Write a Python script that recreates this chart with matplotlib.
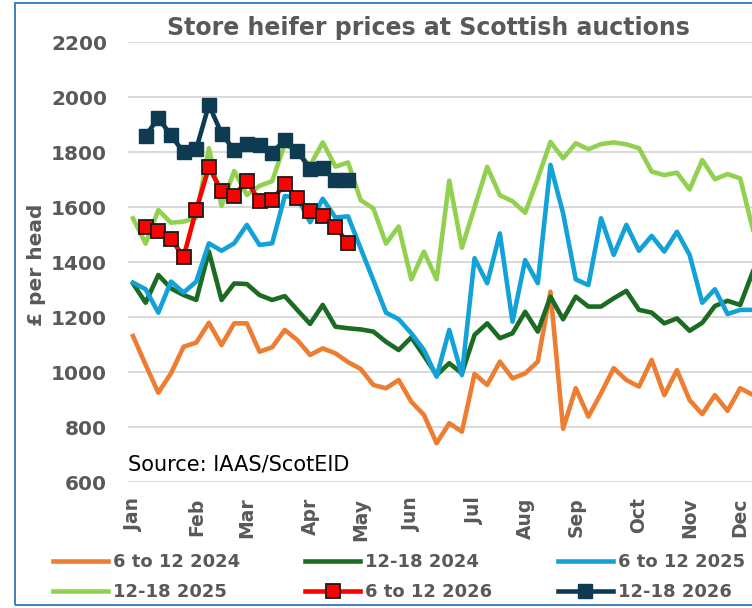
import numpy as np
import matplotlib
matplotlib.use("Agg")
import matplotlib.pyplot as plt
from matplotlib.patches import Rectangle

# ---------------- data ----------------
weeks = list(range(50))
weeks_2026 = list(range(1, 18))

month_labels = ["Jan", "Feb", "Mar", "Apr", "May", "Jun", "Jul", "Aug", "Sep", "Oct", "Nov", "Dec"]
month_weeks = [0, 5, 9, 14, 18, 22, 27, 31, 35, 40, 44, 48]

y_ticks = [600, 800, 1000, 1200, 1400, 1600, 1800, 2000, 2200]

s_6to12_2024 = [1132, 1027, 926, 996, 1093, 1108, 1180, 1099, 1178, 1178,
                1075, 1091, 1154, 1117, 1063, 1087, 1069, 1037, 1012, 954,
                942, 972, 893, 845, 742, 815, 784, 994, 954, 1039,
                978, 996, 1039, 1293, 795, 942, 839, 924, 1015, 972,
                948, 1045, 917, 1008, 899, 848, 917, 860, 942, 918]
s_12to18_2024 = [1323, 1253, 1354, 1305, 1281, 1263, 1439, 1263, 1323, 1321,
                 1281, 1263, 1277, 1226, 1176, 1245, 1166, 1160, 1156, 1148,
                 1111, 1081, 1127, 1060, 990, 1033, 996, 1136, 1178, 1124,
                 1142, 1220, 1148, 1275, 1193, 1275, 1239, 1239, 1269, 1296,
                 1227, 1217, 1178, 1196, 1151, 1180, 1241, 1260, 1245, 1366]
s_6to12_2025 = [1326, 1302, 1217, 1330, 1290, 1330, 1469, 1442, 1469, 1536,
                1463, 1469, 1641, 1635, 1546, 1631, 1563, 1567, 1450, 1335,
                1217, 1193, 1142, 1081, 984, 1154, 990, 1415, 1324, 1505,
                1184, 1408, 1324, 1754, 1578, 1338, 1317, 1560, 1427, 1536,
                1442, 1496, 1439, 1511, 1427, 1253, 1302, 1212, 1227, 1227]
s_12to18_2025 = [1560, 1468, 1590, 1544, 1548, 1562, 1815, 1605, 1732, 1645,
                 1678, 1695, 1830, 1800, 1752, 1836, 1748, 1763, 1626, 1596,
                 1468, 1530, 1338, 1439, 1338, 1697, 1453, 1600, 1747, 1644,
                 1622, 1580, 1705, 1838, 1778, 1833, 1811, 1830, 1836, 1829,
                 1815, 1730, 1717, 1726, 1665, 1772, 1702, 1721, 1705, 1520]
s_6to12_2026 = [1530, 1513, 1485, 1420, 1592, 1745, 1660, 1642, 1697, 1622,
                1626, 1685, 1633, 1586, 1570, 1530, 1469]
s_12to18_2026 = [1860, 1925, 1862, 1800, 1812, 1973, 1868, 1808, 1831, 1825,
                 1798, 1845, 1803, 1740, 1742, 1700, 1698]

labels = ["6 to 12 2024", "12-18 2024", "6 to 12 2025",
          "12-18 2025", "6 to 12 2026", "12-18 2026"]

# ---------------- style ----------------
GREY = "#595959"
FONT = ["DejaVu Sans"]
plt.rcParams["font.family"] = FONT

W, H = 752, 608
fig = plt.figure(figsize=(W / 100, H / 100), dpi=100)

# chart border (cut on right side like the reference)
fig.patches.append(Rectangle((15 / W, 1 - 605 / H), 1.2, (605 - 3) / H,
                             transform=fig.transFigure, fill=False,
                             edgecolor="#2E75B6", linewidth=1.3, zorder=0))

ax = fig.add_axes([128 / W, 1 - 482.3 / H, 1 - 128 / W, (482.3 - 42.3) / H])
step = 12.65
ax.set_xlim(-5 / step, (752 - 133) / step)
ax.set_ylim(600, 2200)

lw = 3.3
l1, = ax.plot(weeks, s_6to12_2024, color="#ED7D31", lw=lw, zorder=3)
l2, = ax.plot(weeks, s_12to18_2024, color="#1B6B23", lw=lw, zorder=4)
l3, = ax.plot(weeks, s_6to12_2025, color="#12A2D8", lw=lw, zorder=5)
l4, = ax.plot(weeks, s_12to18_2025, color="#92D050", lw=lw, zorder=6)
l5, = ax.plot(weeks_2026, s_6to12_2026, color="#FF0000", lw=lw, marker="s",
              markersize=9.5, markerfacecolor="#FF0000", markeredgecolor="#1a1a1a",
              markeredgewidth=1.3, zorder=7)
l6, = ax.plot(weeks_2026, s_12to18_2026, color="#0E3A52", lw=lw, marker="s",
              markersize=10, markerfacecolor="#0E3A52", markeredgecolor="#0E3A52",
              zorder=8)

ax.set_yticks(y_ticks)
ax.set_yticklabels([str(v) for v in y_ticks])
ax.set_xticks(month_weeks)
ax.set_xticklabels(month_labels, rotation=90)
ax.grid(axis="y", color="#D9D9D9", lw=1.4, zorder=0)
ax.set_axisbelow(True)
for s in ax.spines.values():
    s.set_visible(False)
ax.tick_params(axis="both", length=0, colors=GREY)
ax.tick_params(axis="y", pad=15, labelsize=14.5)
ax.tick_params(axis="x", pad=11, labelsize=13.5)
for t in ax.get_xticklabels() + ax.get_yticklabels():
    t.set_fontweight("bold")

fig.text(36 / W, 1 - 265 / H, "£ per head", rotation=90, ha="center", va="center",
         fontsize=14.5, fontweight="bold", color=GREY)

fig.text(428 / W, 1 - 35 / H, "Store heifer prices at Scottish auctions",
         ha="center", va="baseline", fontsize=17, fontweight="bold", color=GREY)

ax.text(0.0, (482.3 - 471) / 440, "Source: IAAS/ScotEID", transform=ax.transAxes,
        ha="left", va="baseline", fontsize=15, color="black", zorder=10)

handles = [l1, l4, l2, l5, l3, l6]
leg_labels = [labels[0], labels[3], labels[1], labels[4], labels[2], labels[5]]
leg = fig.legend(handles, leg_labels, ncol=3, loc="upper left",
                 bbox_to_anchor=(53 / W, 1 - 553 / H), frameon=False,
                 borderaxespad=0, borderpad=0, handlelength=3.05,
                 handletextpad=0.28, columnspacing=3.6, labelspacing=0.68,
                 prop={"family": FONT, "weight": "bold", "size": 13})
for t in leg.get_texts():
    t.set_color(GREY)

fig.savefig("out.png", dpi=100)
